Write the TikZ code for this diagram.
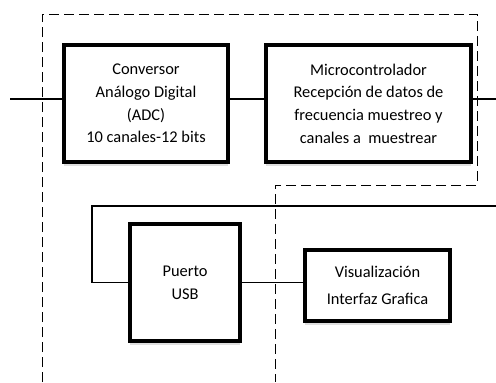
\documentclass[tikz,border=0pt]{standalone}
\usepackage{fontspec}
\setmainfont{Carlito}
\usepackage{tikz}
\usetikzlibrary{shadows}
\def\px{0.75pt}

\begin{document}
\begin{tikzpicture}[x=\px, y=-\px,
    bloque/.style={draw, line width=4*\px, fill=white, align=center, inner sep=0pt,
        font=\fontsize{12.3}{17}\selectfont,
        drop shadow={shadow xshift=0pt, shadow yshift=-3pt, opacity=0.25, fill=gray}},
    enlace/.style={line width=1.5*\px},
    limite/.style={line width=1*\px, dash pattern=on 10*\px off 5*\px}]
\useasboundingbox (0,0) rectangle (496,382);
%\draw[step=10, black!20] (0,0) grid (496,382);
    % zona de adquisicion
    \draw[limite] (42,382) -- (42,14) -- (477,14) -- (477,185) -- (275,185) -- (275,382);
    \coordinate (entrada) at (10,99);
    \coordinate (salida) at (496,99);
    \coordinate (retorno) at (496,206);
    \coordinate (esquina) at (92,206);
    % bloques
    \node[bloque, minimum width=164*\px, minimum height=117*\px] (adc) at (146,103.5)
        {Conversor\\ Análogo Digital\\ (ADC)\\ 10 canales-12 bits};
    \node[bloque, minimum width=205*\px, minimum height=117*\px] (micro) at (368.5,103.5)
        {Microcontrolador\\ Recepción de datos de\\ frecuencia muestreo y\\ canales a\ \ muestrear};
    \node[bloque, minimum width=110*\px, minimum height=117*\px] (usb) at (185,282.5)
        {Puerto\\ USB};
    \node[bloque, minimum width=145*\px, minimum height=71*\px] (gui) at (377.5,285.5)
        {Visualización\\[3pt] Interfaz Grafica};
    % conexiones
    \draw[enlace] (entrada) -- (entrada -| adc.west);
    \draw[enlace] (entrada -| adc.east) -- (entrada -| micro.west);
    \draw[enlace] (entrada -| micro.east) -- (salida);
    \draw[enlace] (retorno) -- (esquina) |- (usb.west);
    \draw[enlace] (usb.east) -- (usb.east -| gui.west);
\end{tikzpicture}
\end{document}
